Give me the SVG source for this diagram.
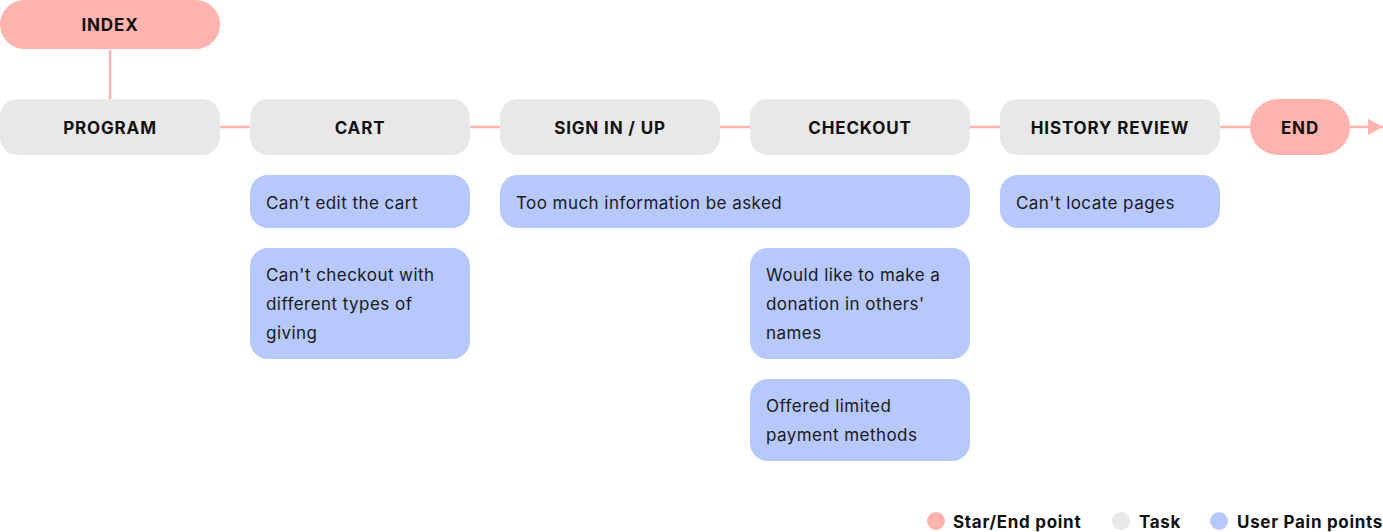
<svg xmlns="http://www.w3.org/2000/svg" width="1383" height="532" viewBox="0 0 1383 532">
<style>
.start{fill:#FFB3AE}
.task{fill:#E8E8E8}
.pain{fill:#B6C8FC}
.lbl{font-family:Inter,"Noto Sans",sans-serif;font-size:17px;font-weight:700;fill:#111;text-anchor:middle;dominant-baseline:central;letter-spacing:0.85px}
.txt{font-family:Inter,"Noto Sans",sans-serif;font-size:17px;font-weight:400;fill:#1a1a1a;letter-spacing:0.45px}
.leg{font-family:Inter,"Noto Sans",sans-serif;font-size:17px;font-weight:700;fill:#111;dominant-baseline:central;letter-spacing:0.7px}
.conn{stroke:#FFB3AE;stroke-width:2.5;fill:none}
</style>
<defs>
<marker id="arr" markerWidth="16" markerHeight="16" refX="15" refY="8" orient="auto" markerUnits="userSpaceOnUse">
<path d="M0,0 L15,8 L0,16 Z" fill="#FFB3AE"/>
</marker>
</defs>
<g id="connectors">
<line class="conn" x1="110" y1="50" x2="110" y2="99"/>
<line class="conn" x1="220" y1="127" x2="250" y2="127"/>
<line class="conn" x1="470" y1="127" x2="500" y2="127"/>
<line class="conn" x1="720" y1="127" x2="750" y2="127"/>
<line class="conn" x1="970" y1="127" x2="1000" y2="127"/>
<line class="conn" x1="1220" y1="127" x2="1250" y2="127"/>
<line class="conn" x1="1350" y1="127" x2="1383" y2="127" marker-end="url(#arr)"/>
</g>
<g id="index"><rect class="start" x="0" y="0" width="220" height="49" rx="24.5"/><text class="lbl" x="110" y="25">INDEX</text></g>
<g id="program"><rect class="task" x="0" y="99" width="220" height="56" rx="18"/><text class="lbl" x="110" y="128">PROGRAM</text></g>
<g id="cart"><rect class="task" x="250" y="99" width="220" height="56" rx="18"/><text class="lbl" x="360" y="128">CART</text></g>
<g id="signin"><rect class="task" x="500" y="99" width="220" height="56" rx="18"/><text class="lbl" x="610" y="128">SIGN IN / UP</text></g>
<g id="checkout"><rect class="task" x="750" y="99" width="220" height="56" rx="18"/><text class="lbl" x="860" y="128">CHECKOUT</text></g>
<g id="history"><rect class="task" x="1000" y="99" width="220" height="56" rx="18"/><text class="lbl" x="1110" y="128">HISTORY REVIEW</text></g>
<g id="end"><rect class="start" x="1250" y="99" width="100" height="56" rx="28"/><text class="lbl" x="1300" y="128">END</text></g>
<g id="pain-edit-cart"><rect class="pain" x="250" y="175" width="220" height="53" rx="18"/><text class="txt" x="266" y="208.5">Can’t edit the cart</text></g>
<g id="pain-too-much"><rect class="pain" x="500" y="175" width="470" height="53" rx="18"/><text class="txt" x="516" y="208.5">Too much information be asked</text></g>
<g id="pain-locate"><rect class="pain" x="1000" y="175" width="220" height="53" rx="18"/><text class="txt" x="1016" y="208.5">Can't locate pages</text></g>
<g id="pain-checkout-types"><rect class="pain" x="250" y="248" width="220" height="111" rx="18"/><text class="txt" x="266" y="280.5">Can't checkout with</text><text class="txt" x="266" y="309.5">different types of</text><text class="txt" x="266" y="338.5">giving</text></g>
<g id="pain-donation"><rect class="pain" x="750" y="248" width="220" height="111" rx="18"/><text class="txt" x="766" y="280.5">Would like to make a</text><text class="txt" x="766" y="309.5">donation in others'</text><text class="txt" x="766" y="338.5">names</text></g>
<g id="pain-payment"><rect class="pain" x="750" y="379" width="220" height="82" rx="18"/><text class="txt" x="766" y="411.5">Offered limited</text><text class="txt" x="766" y="440.5">payment methods</text></g>
<g id="legend">
<circle class="start" cx="936" cy="521" r="9"/><text class="leg" x="953" y="522">Star/End point</text>
<circle class="task" cx="1121" cy="521" r="9"/><text class="leg" x="1139" y="522">Task</text>
<circle class="pain" cx="1219" cy="521" r="9"/><text class="leg" x="1237" y="522">User Pain points</text>
</g>
</svg>
